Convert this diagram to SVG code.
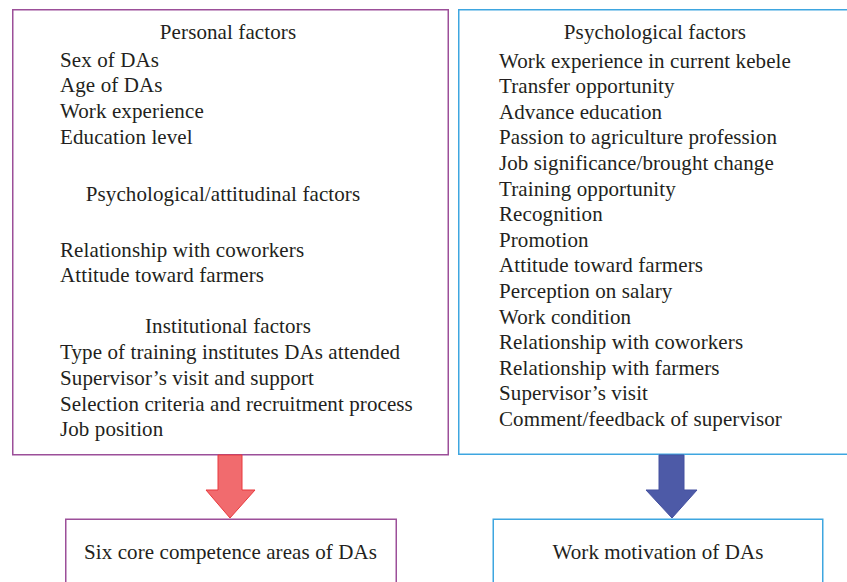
<svg xmlns="http://www.w3.org/2000/svg" width="847" height="582" viewBox="0 0 847 582">
  <style>
    .t { font-family: "Liberation Serif", "Times New Roman", serif; font-size: 21px; letter-spacing: 0.1px; fill: #231f20; }
    .h { text-anchor: middle; }
    .boxL { fill: #ffffff; stroke: #9c4f99; stroke-width: 1.5; }
    .boxR { fill: #ffffff; stroke: #3ea6e0; stroke-width: 1.5; }
  </style>
  <rect width="847" height="582" fill="#ffffff"/>

  <!-- Competence factors -->
  <g id="competence-factors">
    <rect class="boxL" x="12.75" y="9.75" width="435.5" height="445"/>
    <text class="t h" x="228" y="38.5">Personal factors</text>
    <text class="t" x="60" y="66.5">Sex of DAs</text>
    <text class="t" x="60" y="92.2">Age of DAs</text>
    <text class="t" x="60" y="117.9">Work experience</text>
    <text class="t" x="60" y="143.5">Education level</text>
    <text class="t h" x="223" y="200.5">Psychological/attitudinal factors</text>
    <text class="t" x="60" y="256.5">Relationship with coworkers</text>
    <text class="t" x="60" y="282.2">Attitude toward farmers</text>
    <text class="t h" x="228" y="333.2">Institutional factors</text>
    <text class="t" x="60" y="359.1">Type of training institutes DAs attended</text>
    <text class="t" x="60" y="384.8">Supervisor’s visit and support</text>
    <text class="t" x="60" y="410.5">Selection criteria and recruitment process</text>
    <text class="t" x="60" y="436.1">Job position</text>
  </g>

  <!-- Motivation factors -->
  <g id="motivation-factors">
    <rect class="boxR" x="458.75" y="9.75" width="395" height="444.5"/>
    <text class="t h" x="655" y="38.5">Psychological factors</text>
    <text class="t" x="499" y="67.5">Work experience in current kebele</text>
    <text class="t" x="499" y="93.1">Transfer opportunity</text>
    <text class="t" x="499" y="118.7">Advance education</text>
    <text class="t" x="499" y="144.3">Passion to agriculture profession</text>
    <text class="t" x="499" y="169.9">Job significance/brought change</text>
    <text class="t" x="499" y="195.5">Training opportunity</text>
    <text class="t" x="499" y="221.1">Recognition</text>
    <text class="t" x="499" y="246.7">Promotion</text>
    <text class="t" x="499" y="272.3">Attitude toward farmers</text>
    <text class="t" x="499" y="297.9">Perception on salary</text>
    <text class="t" x="499" y="323.5">Work condition</text>
    <text class="t" x="499" y="349.1">Relationship with coworkers</text>
    <text class="t" x="499" y="374.7">Relationship with farmers</text>
    <text class="t" x="499" y="400.3">Supervisor’s visit</text>
    <text class="t" x="499" y="425.9">Comment/feedback of supervisor</text>
  </g>

  <!-- Outcome boxes -->
  <g id="competence-outcome">
    <rect class="boxL" x="65.75" y="519.25" width="330.5" height="80"/>
    <text class="t h" x="230.5" y="558.5">Six core competence areas of DAs</text>
  </g>
  <g id="motivation-outcome">
    <rect class="boxR" x="493.25" y="519.25" width="329.5" height="80"/>
    <text class="t h" x="658" y="559">Work motivation of DAs</text>
  </g>

  <!-- Connectors -->
  <g id="connectors">
    <polygon points="218,455 242,455 242,490 255,490 230,518 206,490 218,490" fill="#f16b6e" stroke="#e8383d" stroke-width="1"/>
    <polygon points="659,455 684,455 684,490 697,490 672,518 646,490 659,490" fill="#4d5aa7" stroke="#4450a0" stroke-width="1"/>
  </g>
</svg>
